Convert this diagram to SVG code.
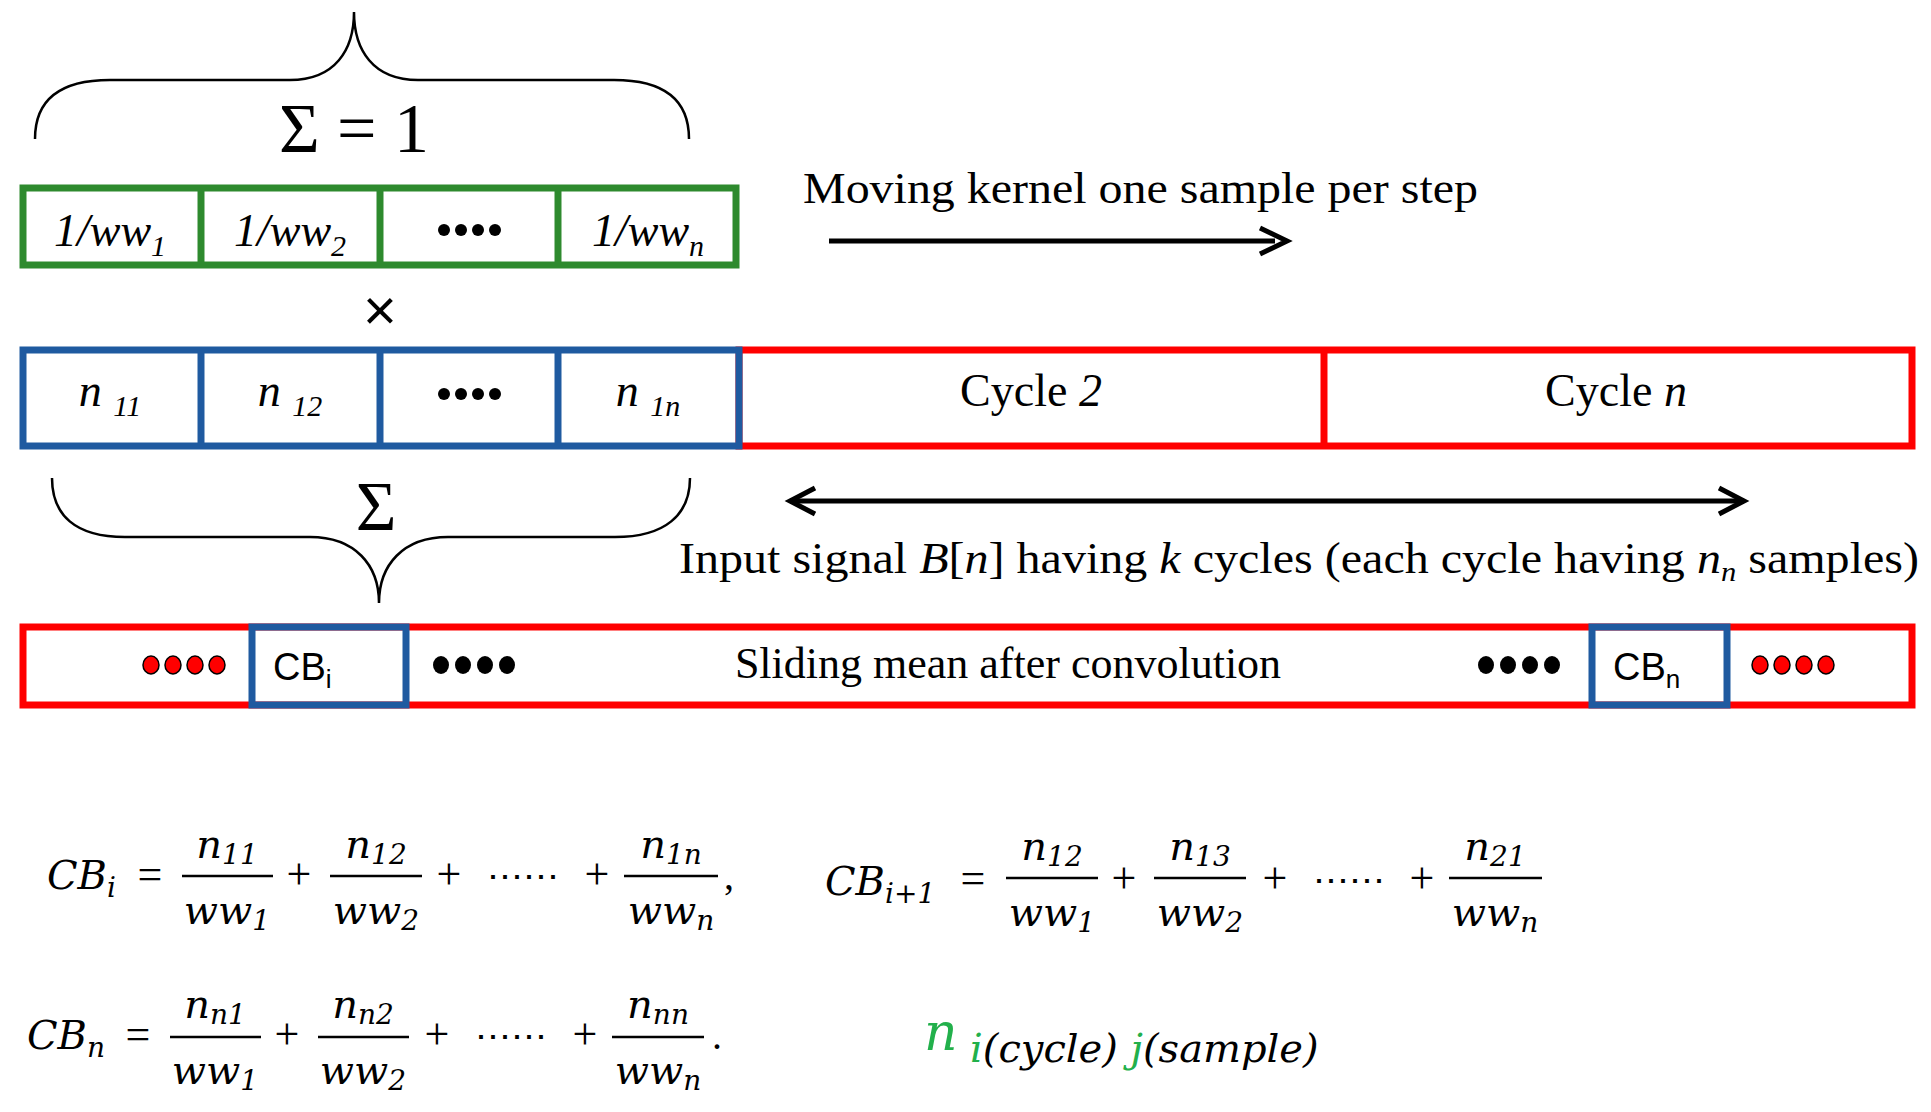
<svg xmlns="http://www.w3.org/2000/svg" width="1931" height="1112" viewBox="0 0 1931 1112">
<style>
.t{font-family:"Liberation Serif",serif;fill:#000}
.i{font-style:italic}
.m{font-family:"DejaVu Serif","Liberation Serif",serif;font-style:italic;fill:#000}
.g{stroke:#2e8a2e;stroke-width:7;fill:none}
.b{stroke:#1f5aa0;stroke-width:7;fill:none}
.r{stroke:#ff0000;stroke-width:7;fill:none}
.br{stroke:#000;stroke-width:2.5;fill:none}
.bar{stroke:#000;stroke-width:2.5}
.s{font-family:"Liberation Sans",sans-serif;fill:#000}
</style>
<defs>
<marker id="ah" markerWidth="10" markerHeight="10" refX="9" refY="5" orient="auto-start-reverse" markerUnits="userSpaceOnUse" viewBox="0 0 10 10"><path d="M0,0 L10,5 L0,10" fill="none" stroke="#000" stroke-width="0"/></marker>
</defs>
<g id="topbrace">
<path class="br" d="M35,139 C35,100 60,80 110,80 L290,80 C335,80 354,50 354,12 C354,50 373,80 418,80 L614,80 C664,80 689,100 689,139"/>
<text class="t" x="354" y="152" font-size="70" text-anchor="middle">Σ = 1</text>
</g>
<g id="kernel">
<rect class="g" x="23" y="188" width="713" height="77"/>
<line class="g" x1="201" y1="188" x2="201" y2="265"/><line class="g" x1="380" y1="188" x2="380" y2="265"/><line class="g" x1="558" y1="188" x2="558" y2="265"/>
<text class="t i" x="110" y="246" font-size="46" text-anchor="middle">1/ww<tspan font-size="30" dy="10">1</tspan></text>
<text class="t i" x="290" y="246" font-size="46" text-anchor="middle">1/ww<tspan font-size="30" dy="10">2</tspan></text>
<g fill="#000"><circle cx="444" cy="230" r="6"/><circle cx="461" cy="230" r="6"/><circle cx="478" cy="230" r="6"/><circle cx="495" cy="230" r="6"/></g>
<text class="t i" x="648" y="246" font-size="46" text-anchor="middle">1/ww<tspan font-size="30" dy="10">n</tspan></text>
</g>
<g id="times"><text class="s" x="380" y="330" font-size="58" text-anchor="middle">×</text></g>
<g id="signal">
<rect class="r" x="739" y="350" width="1173" height="96"/>
<line class="r" x1="1324" y1="350" x2="1324" y2="446"/>
<text class="t" x="1031" y="406" font-size="46" text-anchor="middle">Cycle <tspan class="i">2</tspan></text>
<text class="t" x="1616" y="406" font-size="46" text-anchor="middle">Cycle <tspan class="i">n</tspan></text>
<rect class="b" x="23" y="350" width="716" height="96"/>
<line class="b" x1="201" y1="350" x2="201" y2="446"/><line class="b" x1="380" y1="350" x2="380" y2="446"/><line class="b" x1="558" y1="350" x2="558" y2="446"/>
<text class="t i" x="110" y="406" font-size="46" text-anchor="middle">n <tspan font-size="30" dy="10">11</tspan></text>
<text class="t i" x="290" y="406" font-size="46" text-anchor="middle">n <tspan font-size="30" dy="10">12</tspan></text>
<g fill="#000"><circle cx="444" cy="394" r="6"/><circle cx="461" cy="394" r="6"/><circle cx="478" cy="394" r="6"/><circle cx="495" cy="394" r="6"/></g>
<text class="t i" x="648" y="406" font-size="46" text-anchor="middle">n <tspan font-size="30" dy="10">1n</tspan></text>
</g>
<g id="lowbrace">
<path class="br" d="M52,478 C52,515 75,537 125,537 L310,537 C355,537 379,565 379,603 C379,565 403,537 448,537 L615,537 C665,537 690,515 690,478"/>
<text class="t" x="376" y="530" font-size="70" text-anchor="middle">Σ</text>
</g>
<g id="labels">
<text class="t" x="803" y="203" font-size="44" textLength="675" lengthAdjust="spacingAndGlyphs">Moving kernel one sample per step</text>
<text class="t" x="679" y="573" font-size="44" textLength="1240" lengthAdjust="spacingAndGlyphs">Input signal <tspan class="i">B</tspan>[<tspan class="i">n</tspan>] having <tspan class="i">k</tspan> cycles (each cycle having <tspan class="i">n</tspan><tspan class="i" font-size="28" dy="8">n</tspan><tspan dy="-8"> samples)</tspan></text>
</g>
<g id="connectors">
<line x1="829" y1="241" x2="1275" y2="241" stroke="#000" stroke-width="5"/>
<path d="M1260,228 L1287,241 L1260,254" fill="none" stroke="#000" stroke-width="5"/>
<line x1="792" y1="501" x2="1742" y2="501" stroke="#000" stroke-width="5"/>
<path d="M815,488 L790,501 L815,514" fill="none" stroke="#000" stroke-width="5"/>
<path d="M1719,488 L1744,501 L1719,514" fill="none" stroke="#000" stroke-width="5"/>
</g>
<g id="output">
<rect class="r" x="23" y="627" width="1889" height="78"/>
<rect class="b" x="252" y="627" width="154" height="78"/>
<rect class="b" x="1592" y="627" width="135" height="78"/>
<text class="s" x="273" y="680" font-size="38">CB<tspan font-size="26" dy="8">i</tspan></text>
<text class="s" x="1613" y="680" font-size="38">CB<tspan font-size="26" dy="8">n</tspan></text>
<text class="t" x="1008" y="678" font-size="44" text-anchor="middle">Sliding mean after convolution</text>
<g fill="#ff0000" stroke="#000" stroke-width="1.5"><ellipse cx="151" cy="665" rx="8" ry="9"/><ellipse cx="173" cy="665" rx="8" ry="9"/><ellipse cx="195" cy="665" rx="8" ry="9"/><ellipse cx="217" cy="665" rx="8" ry="9"/>
<ellipse cx="1760" cy="665" rx="8" ry="9"/><ellipse cx="1782" cy="665" rx="8" ry="9"/><ellipse cx="1804" cy="665" rx="8" ry="9"/><ellipse cx="1826" cy="665" rx="8" ry="9"/></g>
<g fill="#000"><ellipse cx="441" cy="665" rx="8" ry="9"/><ellipse cx="463" cy="665" rx="8" ry="9"/><ellipse cx="485" cy="665" rx="8" ry="9"/><ellipse cx="507" cy="665" rx="8" ry="9"/>
<ellipse cx="1486" cy="665" rx="8" ry="9"/><ellipse cx="1508" cy="665" rx="8" ry="9"/><ellipse cx="1530" cy="665" rx="8" ry="9"/><ellipse cx="1552" cy="665" rx="8" ry="9"/></g>
</g>
<g id="eq1" font-size="40">
<text class="m" x="47" y="889">CB<tspan font-size="28" dy="8">i</tspan></text>
<text class="t" x="150" y="889" text-anchor="middle" font-size="44">=</text>
<line class="bar" x1="182" y1="876" x2="273" y2="876"/>
<text class="m" x="227" y="858" text-anchor="middle">n<tspan font-size="28" dy="6">11</tspan></text>
<text class="m" x="227" y="924" text-anchor="middle">ww<tspan font-size="28" dy="6">1</tspan></text>
<text class="t" x="299" y="889" text-anchor="middle" font-size="44">+</text>
<line class="bar" x1="330" y1="876" x2="422" y2="876"/>
<text class="m" x="376" y="858" text-anchor="middle">n<tspan font-size="28" dy="6">12</tspan></text>
<text class="m" x="376" y="924" text-anchor="middle">ww<tspan font-size="28" dy="6">2</tspan></text>
<text class="t" x="449" y="889" text-anchor="middle" font-size="44">+</text>
<text class="t" x="523" y="889" text-anchor="middle" font-size="36">⋯⋯</text>
<text class="t" x="597" y="889" text-anchor="middle" font-size="44">+</text>
<line class="bar" x1="624" y1="876" x2="718" y2="876"/>
<text class="m" x="671" y="858" text-anchor="middle">n<tspan font-size="28" dy="6">1n</tspan></text>
<text class="m" x="671" y="924" text-anchor="middle">ww<tspan font-size="28" dy="6">n</tspan></text>
<text class="t" x="724" y="889" font-size="40">,</text>
</g>
<g id="eq2" font-size="40">
<text class="m" x="825" y="895">CB<tspan font-size="28" dy="8">i+1</tspan></text>
<text class="t" x="973" y="893" text-anchor="middle" font-size="44">=</text>
<line class="bar" x1="1006" y1="878" x2="1098" y2="878"/>
<text class="m" x="1052" y="860" text-anchor="middle">n<tspan font-size="28" dy="6">12</tspan></text>
<text class="m" x="1052" y="926" text-anchor="middle">ww<tspan font-size="28" dy="6">1</tspan></text>
<text class="t" x="1124" y="893" text-anchor="middle" font-size="44">+</text>
<line class="bar" x1="1154" y1="878" x2="1246" y2="878"/>
<text class="m" x="1200" y="860" text-anchor="middle">n<tspan font-size="28" dy="6">13</tspan></text>
<text class="m" x="1200" y="926" text-anchor="middle">ww<tspan font-size="28" dy="6">2</tspan></text>
<text class="t" x="1275" y="893" text-anchor="middle" font-size="44">+</text>
<text class="t" x="1349" y="893" text-anchor="middle" font-size="36">⋯⋯</text>
<text class="t" x="1422" y="893" text-anchor="middle" font-size="44">+</text>
<line class="bar" x1="1449" y1="878" x2="1542" y2="878"/>
<text class="m" x="1495" y="860" text-anchor="middle">n<tspan font-size="28" dy="6">21</tspan></text>
<text class="m" x="1495" y="926" text-anchor="middle">ww<tspan font-size="28" dy="6">n</tspan></text>
</g>
<g id="eq3" font-size="40">
<text class="m" x="27" y="1049">CB<tspan font-size="28" dy="8">n</tspan></text>
<text class="t" x="138" y="1049" text-anchor="middle" font-size="44">=</text>
<line class="bar" x1="170" y1="1037" x2="261" y2="1037"/>
<text class="m" x="215" y="1018" text-anchor="middle">n<tspan font-size="28" dy="6">n1</tspan></text>
<text class="m" x="215" y="1084" text-anchor="middle">ww<tspan font-size="28" dy="6">1</tspan></text>
<text class="t" x="287" y="1049" text-anchor="middle" font-size="44">+</text>
<line class="bar" x1="318" y1="1037" x2="409" y2="1037"/>
<text class="m" x="363" y="1018" text-anchor="middle">n<tspan font-size="28" dy="6">n2</tspan></text>
<text class="m" x="363" y="1084" text-anchor="middle">ww<tspan font-size="28" dy="6">2</tspan></text>
<text class="t" x="437" y="1049" text-anchor="middle" font-size="44">+</text>
<text class="t" x="511" y="1049" text-anchor="middle" font-size="36">⋯⋯</text>
<text class="t" x="585" y="1049" text-anchor="middle" font-size="44">+</text>
<line class="bar" x1="612" y1="1037" x2="704" y2="1037"/>
<text class="m" x="658" y="1018" text-anchor="middle">n<tspan font-size="28" dy="6">nn</tspan></text>
<text class="m" x="658" y="1084" text-anchor="middle">ww<tspan font-size="28" dy="6">n</tspan></text>
<text class="t" x="712" y="1049" font-size="40">.</text>
</g>
<g id="legend">
<text class="m" x="924" y="1050" font-size="52" fill="#22b04b" style="fill:#22b04b">n</text>
<text class="m" x="970" y="1062" font-size="40"><tspan style="fill:#22b04b">i</tspan>(cycle) <tspan style="fill:#22b04b">j</tspan>(sample)</text>
</g>
</svg>
